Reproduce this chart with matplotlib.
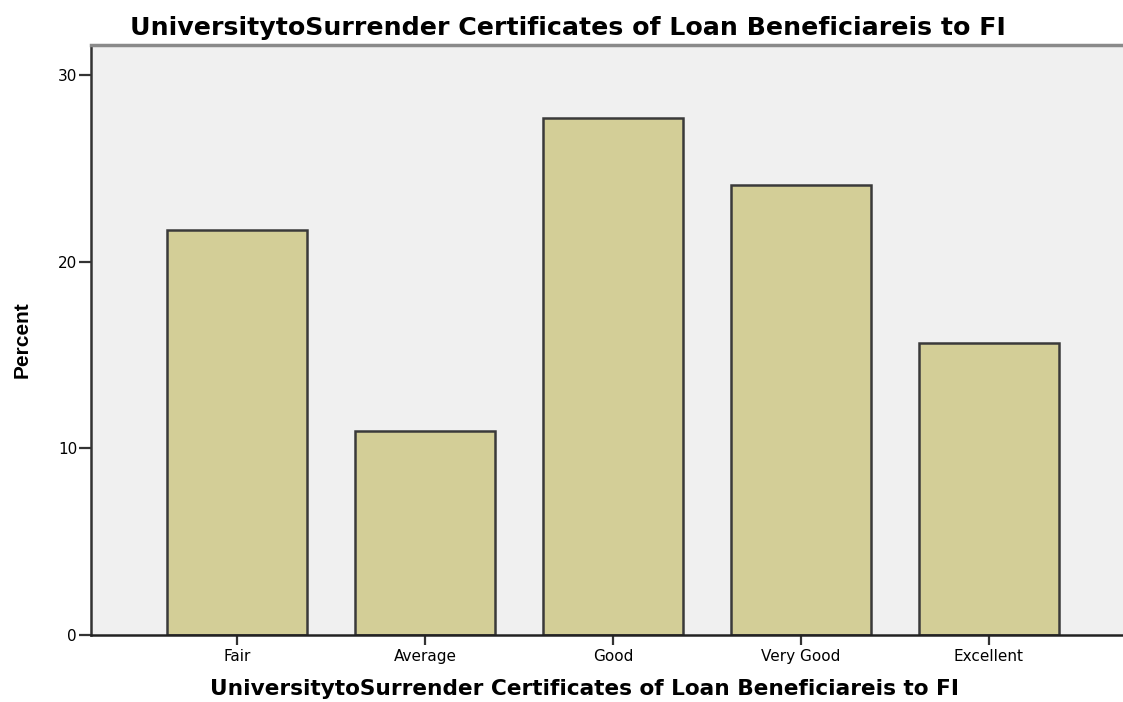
import numpy as np
import matplotlib.pyplot as plt

# --------------------------- DATA ---------------------------
categories = ['Fair', 'Average', 'Good', 'Very Good', 'Excellent']
percent = [21.7, 10.9, 27.7, 24.1, 15.65]
y_ticks = [0, 10, 20, 30]
title = 'UniversitytoSurrender Certificates of Loan Beneficiareis to FI'

# --------------------------- PLOT ---------------------------
fig = plt.figure(figsize=(11.23, 7.02), dpi=100)
ax = fig.add_axes([91 / 1123, 67 / 702, 1 - 91 / 1123, (635 - 45) / 702])
ax.set_facecolor('#f0f0f0')

x = np.arange(len(categories))
ax.bar(x, percent, width=0.745, color='#d3ce97', edgecolor='#3a3a3a', linewidth=1.8, zorder=2)

ax.set_xlim(-0.777, 4.713)
ax.set_ylim(0, 31.6)
ax.set_xticks(x)
ax.set_xticklabels(categories, family='DejaVu Sans', fontsize=11)
ax.set_yticks(y_ticks)
ax.set_yticklabels([str(t) for t in y_ticks], family='DejaVu Sans', fontsize=11)
ax.tick_params(axis='y', direction='out', length=9, width=1.6, color='#333333', pad=1)
ax.tick_params(axis='x', direction='out', length=7, width=1.6, color='#333333', pad=3)

ax.spines['right'].set_visible(False)
ax.spines['top'].set_color('#8a8a8a')
ax.spines['top'].set_linewidth(2.5)
ax.spines['left'].set_color('#333333')
ax.spines['left'].set_linewidth(1.8)
ax.spines['bottom'].set_color('#222222')
ax.spines['bottom'].set_linewidth(1.8)

ax.set_ylabel('Percent', family=['Liberation Sans Narrow', 'Liberation Sans'], fontweight='bold',
              fontsize=15, labelpad=19)

fig.text(568 / 1123, 1 - 35 / 702, title, family='DejaVu Sans', fontweight='bold',
         fontsize=18.2, ha='center', va='baseline')
fig.text(585 / 1123, 1 - 695 / 702, title, family='DejaVu Sans', fontweight='bold',
         fontsize=15.6, ha='center', va='baseline')

fig.savefig('out.png', dpi=100)
